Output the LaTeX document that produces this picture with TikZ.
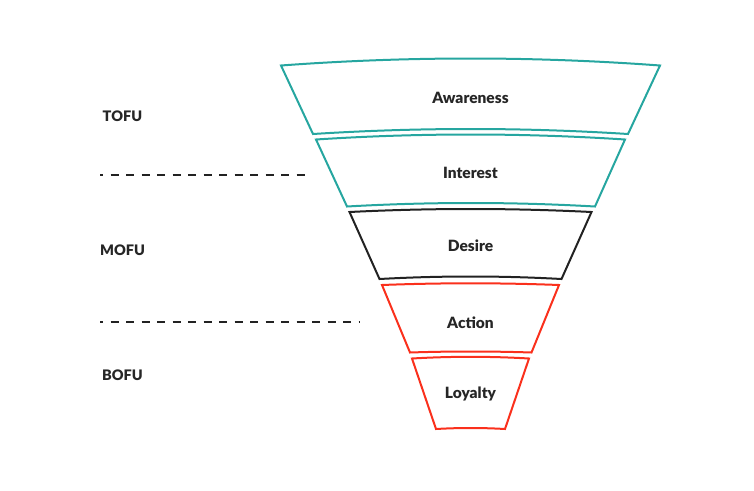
\documentclass[tikz,border=0pt]{standalone}
\usepackage{fontspec}
\setmainfont{Lato}[BoldFont={Lato Black}]
\usetikzlibrary{calc}
\definecolor{funteal}{RGB}{38,166,160}
\definecolor{funred}{RGB}{250,48,28}
\definecolor{funblack}{RGB}{34,34,34}
\definecolor{txtdark}{RGB}{38,38,38}
\tikzset{
  seg/.style={line width=2pt, line join=miter},
  stagetext/.style={font=\bfseries\fontsize{15.5}{17}\selectfont, text=txtdark, inner sep=0pt, anchor=base},
  fulabel/.style={font=\bfseries\fontsize{14.5}{16}\selectfont, text=txtdark, inner sep=0pt, anchor=base west},
  divider/.style={line width=2pt, funblack, dash pattern=on 8pt off 7.5pt, dash phase=5pt}
}
% #1 color, #2 xl top, #3 xr top, #4 y top, #5 sag top, #6 xl bot, #7 xr bot, #8 y bot, #9 sag bot
\newcommand{\funnelseg}[9]{%
  \draw[seg, #1] (#2,#4)
    .. controls ($(#2,#4)!0.6667!(470.5,{#4-2*#5})$) and ($(#3,#4)!0.6667!(470.5,{#4-2*#5})$) .. (#3,#4)
    -- (#7,#8)
    .. controls ($(#7,#8)!0.6667!(470.5,{#8-2*#9})$) and ($(#6,#8)!0.6667!(470.5,{#8-2*#9})$) .. (#6,#8)
    -- cycle;}
\begin{document}
\begin{tikzpicture}[x=1pt,y=-1pt]
\useasboundingbox (0,0) rectangle (754,490);
\funnelseg{funteal}{281}{660}{65.5}{7}{313}{628}{134}{5}
\funnelseg{funteal}{316}{625}{139.5}{5}{347}{595}{206.5}{3.5}
\funnelseg{funblack}{349.5}{591.5}{212}{3}{379.5}{561.5}{279}{2.5}
\funnelseg{funred}{382}{559}{285}{1.7}{410}{531.5}{352.5}{1}
\funnelseg{funred}{412}{529}{358.5}{1.7}{436}{505}{429}{1}
\node[stagetext] (awareness) at (470.5,103.3) {Awareness};
\node[stagetext] (interest) at (470.5,178.3) {Interest};
\node[stagetext] (desire) at (470.5,251) {Desire};
\node[stagetext] (action) at (470.5,328.3) {Action};
\node[stagetext] (loyalty) at (470.5,398.3) {Loyalty};
\node[fulabel] (tofu) at (102.5,121.7) {TOFU};
\node[fulabel] (mofu) at (100,255) {MOFU};
\node[fulabel] (bofu) at (102,380) {BOFU};
\coordinate (d1s) at (100,175);
\coordinate (d1e) at (306,175);
\coordinate (d2s) at (100,321.5);
\coordinate (d2e) at (359,321.5);
\draw[divider] (d1s) -- (d1e);
\draw[divider] (d2s) -- (d2e);
\end{tikzpicture}
\end{document}
